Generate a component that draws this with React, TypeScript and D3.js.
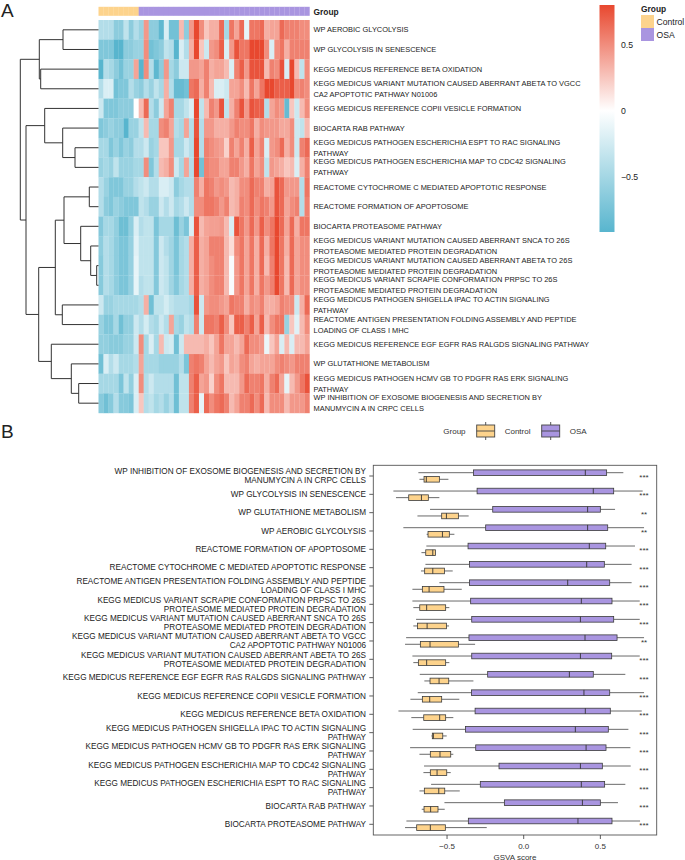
import React, { useEffect, useRef } from 'react';
import * as d3 from 'd3';

const FONT = '"Liberation Sans", Arial, sans-serif';
const CONTROL = '#fdd38c';
const OSA = '#a995e0';

// heatmap rows, top to bottom
const rowLabels = [
  'WP AEROBIC GLYCOLYSIS',
  'WP GLYCOLYSIS IN SENESCENCE',
  'KEGG MEDICUS REFERENCE BETA OXIDATION',
  'KEGG MEDICUS VARIANT MUTATION CAUSED ABERRANT ABETA TO VGCC\nCA2 APOPTOTIC PATHWAY N01006',
  'KEGG MEDICUS REFERENCE COPII VESICLE FORMATION',
  'BIOCARTA RAB PATHWAY',
  'KEGG MEDICUS PATHOGEN ESCHERICHIA ESPT TO RAC SIGNALING\nPATHWAY',
  'KEGG MEDICUS PATHOGEN ESCHERICHIA MAP TO CDC42 SIGNALING\nPATHWAY',
  'REACTOME CYTOCHROME C MEDIATED APOPTOTIC RESPONSE',
  'REACTOME FORMATION OF APOPTOSOME',
  'BIOCARTA PROTEASOME PATHWAY',
  'KEGG MEDICUS VARIANT MUTATION CAUSED ABERRANT SNCA TO 26S\nPROTEASOME MEDIATED PROTEIN DEGRADATION',
  'KEGG MEDICUS VARIANT MUTATION CAUSED ABERRANT ABETA TO 26S\nPROTEASOME MEDIATED PROTEIN DEGRADATION',
  'KEGG MEDICUS VARIANT SCRAPIE CONFORMATION PRPSC TO 26S\nPROTEASOME MEDIATED PROTEIN DEGRADATION',
  'KEGG MEDICUS PATHOGEN SHIGELLA IPAC TO ACTIN SIGNALING\nPATHWAY',
  'REACTOME ANTIGEN PRESENTATION FOLDING ASSEMBLY AND PEPTIDE\nLOADING OF CLASS I MHC',
  'KEGG MEDICUS REFERENCE EGF EGFR RAS RALGDS SIGNALING PATHWAY',
  'WP GLUTATHIONE METABOLISM',
  'KEGG MEDICUS PATHOGEN HCMV GB TO PDGFR RAS ERK SIGNALING\nPATHWAY',
  'WP INHIBITION OF EXOSOME BIOGENESIS AND SECRETION BY\nMANUMYCIN A IN CRPC CELLS',
];

// 42 samples per row
const heatRows = [
  [-.42,-.42,-.42,-.63,-.63,-.35,-.63,-.42,-.56,.45,-.63,-.63,-.88,-.21,-.77,-.77,.3,-.63,.45,.8,.5,.25,.35,.35,.65,-.49,.6,.4,.65,-.14,.6,.6,.65,.35,.4,.4,.65,.55,.55,.55,.5,.5],
  [-.7,-.7,-.7,-.92,-.92,-.63,-.63,-.56,-.56,.5,-.77,-.7,-.63,-.35,-.42,-.92,-.21,-.42,.35,.8,.25,-.28,.45,.5,.7,-.21,.45,.75,.6,.6,.8,.8,.8,.5,-.21,.5,.6,.35,.55,.55,.55,.55],
  [-.92,-.42,-.49,-.63,-.77,-.56,-.56,.4,-.92,.5,-.42,-.88,-.63,.45,-.49,-.63,-.28,-.28,.45,.45,.4,.55,.35,.4,.4,.3,-.21,.55,.7,.45,.75,.75,.75,.3,.55,.5,.75,-.21,.8,.3,-.35,.5],
  [-.42,-.21,-.21,-.77,-.7,-.7,-.42,-.56,-.63,-.42,-.56,-.35,-.49,.35,-.42,-.84,-.84,-.77,.6,.65,.35,.55,.3,-.21,-.21,-.28,.4,.4,.5,.3,.6,.4,.6,.8,.8,.7,.7,.7,.8,.5,.55,.5],
  [-.28,-.7,-.7,-.7,-.63,-.63,-.63,0,.3,.65,-.42,-.63,-.28,.4,.55,-.49,-.49,-.35,-.21,.8,-.35,.3,.55,.45,.75,-.35,.35,.55,.75,.45,.75,.7,.7,-.42,.4,.5,.45,-.84,.25,-.28,.3,.5],
  [-.7,-.63,-.56,-.63,-.63,-.92,-.56,-.56,-.35,.3,-.49,-.49,.5,.55,.4,-.42,-.49,.4,-.42,.75,-.42,.45,.45,.35,.35,.35,.45,.55,.5,.5,.6,.35,.5,.45,.45,.45,.38,.38,.5,-.28,-.35,.3],
  [-.49,-.49,-.7,-.56,-.7,-.56,-.63,-.42,-.42,-.28,-.56,-.49,.25,.25,.45,-.49,-.49,-.28,-.42,.8,-.42,.55,.5,.45,.42,.2,.55,.4,.55,.35,.7,.4,.55,-.21,.45,.5,.65,.35,.5,-.28,.55,.65],
  [-.56,-.49,-.56,-.35,-.56,-.56,-.56,-.49,-.49,.5,-.7,-.42,.3,.35,.5,-.28,-.49,.4,-.42,.8,-.77,.55,.5,.5,.4,.4,.55,.55,.45,.35,.6,.4,.5,-.35,.45,.4,.35,.25,.3,-.21,.35,.55],
  [-.42,-.56,-.7,-.7,-.7,-.56,-.56,-.42,-.35,-.28,-.42,-.42,-.21,-.21,-.28,-.63,-.49,-.42,-.42,.55,.35,.6,.55,.45,.5,.45,.3,.35,.5,.5,.65,.55,.55,.35,.4,.75,.65,.45,.45,.45,-.42,.6],
  [-.42,-.63,-.7,-.56,-.63,-.7,-.7,-.7,-.35,-.42,-.56,-.56,-.28,-.42,-.28,-.49,-.42,-.28,-.42,.5,.5,.6,.6,.55,.45,.55,.3,.35,.55,.5,.65,.5,.6,.55,.45,.75,.65,.4,.5,.55,-.42,.55],
  [-.68,-.49,-.49,-.6,-.8,-.8,-.6,-.21,-.42,-.35,-.35,-.72,-.49,-.49,-.49,-.8,-.56,-.72,-.21,.75,.3,.4,.42,.42,.45,.3,-.21,.75,.6,.45,.65,.45,.7,.5,.6,.8,.65,.4,.65,.35,.6,.6],
  [-.62,-.42,-.49,-.62,-.72,-.72,-.58,-.17,-.35,-.35,-.35,-.68,-.28,-.42,-.52,-.72,-.49,-.42,.35,.7,.35,.4,.55,.55,.55,.3,.15,.5,.6,.4,.6,.35,.65,.35,.6,.8,.6,.35,.65,.4,.5,.5],
  [-.66,-.42,-.49,-.62,-.72,-.72,-.58,-.14,-.35,-.35,-.35,-.68,-.28,-.35,-.52,-.72,-.49,-.42,.35,.7,.35,.4,.5,.55,.55,.3,-.04,.45,.6,.4,.6,.35,.65,.3,.55,.8,.6,.3,.65,.4,.5,.5],
  [-.66,-.42,-.49,-.62,-.72,-.72,-.58,-.14,-.42,-.35,-.35,-.68,-.28,-.35,-.52,-.68,-.49,-.42,.35,.7,.35,.4,.5,.55,.55,.3,-.04,.45,.6,.4,.6,.35,.6,.45,.55,.8,.6,.3,.65,.4,.5,.5],
  [-.28,-.56,-.56,-.49,-.49,-.49,-.49,-.49,-.42,.35,-.78,-.35,-.35,-.24,-.35,-.42,-.42,-.42,-.49,.75,-.28,.45,.5,.5,.45,.4,.6,.55,.55,.35,.5,.45,.55,.35,.35,.4,.55,.5,.5,-.28,.35,.65],
  [-.56,-.7,-.7,-.49,-.78,-.6,-.6,-.28,-.42,-.24,-.42,-.49,-.28,-.42,.4,-.49,-.56,-.35,-.42,.55,-.28,.6,.6,.55,.7,.5,.25,.7,.7,.55,.7,.4,.7,.3,.5,.6,.6,-.56,.25,-.17,.3,.5],
  [-.6,-.6,-.65,-.65,-.65,-.56,-.56,-.28,.5,-.49,-.21,-.49,.3,-.28,-.24,-.78,-.28,.3,.3,.3,.3,.35,.25,.4,.6,.4,.4,.3,.4,.65,.5,.5,.45,-.11,.25,.4,-.21,.3,-.21,.3,.3,.4],
  [-.78,-.21,-.42,-.28,-.49,-.49,-.49,-.42,.4,-.49,-.49,-.49,-.56,-.56,-.56,-.56,-.42,-.72,.55,.6,.55,.4,.3,.4,.45,.25,.4,.35,.5,.55,.4,.35,.4,.4,.4,.5,.55,.5,.45,.55,.55,.55],
  [-.49,-.49,-.49,-.49,-.72,-.35,-.6,-.21,.5,-.42,-.28,-.42,-.42,-.42,-.42,-.78,-.35,-.35,.55,.7,.4,.45,.2,.5,.6,.3,.3,.3,.45,.65,.55,.55,.6,.35,.55,.65,.4,-.14,.3,.45,.6,.75],
  [-.66,-.78,-.66,-.42,-.66,-.66,-.72,-.21,.25,-.42,-.35,-.49,-.42,-.56,-.42,-.8,-.35,-.35,.55,.7,-.14,.65,.5,.6,.65,.55,.3,.4,.55,.55,.65,.5,.65,.3,.5,.5,.5,.3,.45,.45,.45,.55],
];

const sampleGroups = [...Array(8).fill('Control'), ...Array(34).fill('OSA')];

// dendrogram merges: [child, child, height]; ids 0-19 are rows, 20+ are earlier merges
const merges: [number, number, number][] = [
  [0, 1, 35.5],
  [2, 3, 57.8],
  [20, 21, 59.2],
  [6, 7, 23.5],
  [5, 23, 35.8],
  [4, 24, 53.8],
  [8, 9, 9.2],
  [12, 13, 1.8],
  [11, 27, 7.8],
  [10, 28, 17.8],
  [26, 29, 34.5],
  [14, 15, 36.2],
  [30, 31, 43.2],
  [18, 19, 19.8],
  [17, 33, 27.2],
  [16, 34, 47.2],
  [32, 35, 59.8],
  [25, 36, 72.5],
  [22, 37, 78.2],
];

// boxplot categories, top to bottom
const boxLabels = [
  'WP INHIBITION OF EXOSOME BIOGENESIS AND SECRETION BY\nMANUMYCIN A IN CRPC CELLS',
  'WP GLYCOLYSIS IN SENESCENCE',
  'WP GLUTATHIONE METABOLISM',
  'WP AEROBIC GLYCOLYSIS',
  'REACTOME FORMATION OF APOPTOSOME',
  'REACTOME CYTOCHROME C MEDIATED APOPTOTIC RESPONSE',
  'REACTOME ANTIGEN PRESENTATION FOLDING ASSEMBLY AND PEPTIDE\nLOADING OF CLASS I MHC',
  'KEGG MEDICUS VARIANT SCRAPIE CONFORMATION PRPSC TO 26S\nPROTEASOME MEDIATED PROTEIN DEGRADATION',
  'KEGG MEDICUS VARIANT MUTATION CAUSED ABERRANT SNCA TO 26S\nPROTEASOME MEDIATED PROTEIN DEGRADATION',
  'KEGG MEDICUS VARIANT MUTATION CAUSED ABERRANT ABETA TO VGCC\nCA2 APOPTOTIC PATHWAY N01006',
  'KEGG MEDICUS VARIANT MUTATION CAUSED ABERRANT ABETA TO 26S\nPROTEASOME MEDIATED PROTEIN DEGRADATION',
  'KEGG MEDICUS REFERENCE EGF EGFR RAS RALGDS SIGNALING PATHWAY',
  'KEGG MEDICUS REFERENCE COPII VESICLE FORMATION',
  'KEGG MEDICUS REFERENCE BETA OXIDATION',
  'KEGG MEDICUS PATHOGEN SHIGELLA IPAC TO ACTIN SIGNALING\nPATHWAY',
  'KEGG MEDICUS PATHOGEN HCMV GB TO PDGFR RAS ERK SIGNALING\nPATHWAY',
  'KEGG MEDICUS PATHOGEN ESCHERICHIA MAP TO CDC42 SIGNALING\nPATHWAY',
  'KEGG MEDICUS PATHOGEN ESCHERICHIA ESPT TO RAC SIGNALING\nPATHWAY',
  'BIOCARTA RAB PATHWAY',
  'BIOCARTA PROTEASOME PATHWAY',
];

// whisker low, q1, median, q3, whisker high
const osaStats = [
  [-.687,-.328,.402,.541,.65],
  [-.85,-.304,.454,.587,.776],
  [-.611,-.202,.417,.5,.596],
  [-.785,-.248,.417,.548,.785],
  [-.635,-.363,.428,.535,.726],
  [-.641,-.354,.411,.526,.704],
  [-.55,-.354,.287,.561,.704],
  [-.726,-.346,.376,.576,.757],
  [-.702,-.339,.37,.587,.757],
  [-.767,-.357,.4,.609,.785],
  [-.726,-.339,.37,.574,.757],
  [-.678,-.235,.298,.454,.663],
  [-.691,-.341,.393,.561,.785],
  [-.817,-.317,.402,.565,.77],
  [-.724,-.38,.337,.552,.683],
  [-.741,-.313,.407,.537,.696],
  [-.65,-.161,.37,.513,.698],
  [-.604,-.283,.376,.528,.663],
  [-.517,-.126,.383,.5,.615],
  [-.765,-.361,.354,.576,.759],
];
const controlStats = [
  [-.68,-.65,-.635,-.55,-.491],
  [-.833,-.75,-.667,-.622,-.55],
  [-.693,-.535,-.504,-.426,-.359],
  [-.633,-.624,-.53,-.485,-.452],
  [-.667,-.639,-.593,-.576,-.576],
  [-.67,-.646,-.593,-.517,-.463],
  [-.726,-.661,-.617,-.52,-.404],
  [-.72,-.678,-.633,-.509,-.485],
  [-.72,-.693,-.63,-.504,-.487],
  [-.774,-.674,-.611,-.426,-.317],
  [-.72,-.687,-.633,-.509,-.485],
  [-.648,-.611,-.552,-.489,-.328],
  [-.739,-.661,-.613,-.535,-.42],
  [-.733,-.652,-.548,-.509,-.459],
  [-.602,-.596,-.589,-.528,-.502],
  [-.68,-.609,-.546,-.476,-.459],
  [-.654,-.609,-.565,-.502,-.476],
  [-.68,-.648,-.554,-.515,-.417],
  [-.665,-.65,-.607,-.559,-.515],
  [-.774,-.698,-.609,-.511,-.241],
];
const significance = ['***','***','**','**','***','***','***','***','***','**','***','***','***','***','***','***','***','***','***','***'];
const xTicks = [-0.5, 0, 0.5];

const App: React.FC = () => {
  const ref = useRef<SVGSVGElement | null>(null);

  useEffect(() => {
    if (!ref.current) return;
    const svg = d3.select<SVGSVGElement, unknown>(ref.current);
    svg.selectAll('*').remove();
    svg.attr('font-family', FONT);

    const addText = (g: any, x: number, y: number, str: string, size: number, anchor = 'start', weight = 'normal', fill = '#222') =>
      g.append('text').attr('x', x).attr('y', y).attr('font-size', size).attr('text-anchor', anchor)
        .attr('font-weight', weight).attr('fill', fill).text(str);

    // panel letters
    addText(svg, 1, 17, 'A', 19);
    addText(svg, 1, 438, 'B', 19);

    // ---- panel A: heatmap
    const colorDomain = [-0.92, 0, 0.8];
    const color = d3.scaleLinear<string>().domain(colorDomain).range(['#58b5ce', '#ffffff', '#e8482f']);
    const xHeat = d3.scaleBand<number>().domain(d3.range(42)).range([98.5, 309.5]);
    const yHeat = d3.scaleBand<number>().domain(d3.range(20)).range([20, 413]);

    const heat = svg.append('g');
    heatRows.forEach((row, r) => {
      heat.selectAll(null).data(row).enter().append('rect')
        .attr('x', (_d: number, c: number) => xHeat(c) as number)
        .attr('y', yHeat(r) as number)
        .attr('width', xHeat.bandwidth() + 0.2)
        .attr('height', yHeat.bandwidth() + 0.2)
        .attr('fill', (d: number) => color(d));
    });

    // top annotation
    svg.append('g').selectAll('rect').data(sampleGroups).enter().append('rect')
      .attr('x', (_d: string, c: number) => xHeat(c) as number)
      .attr('y', 6.8)
      .attr('width', xHeat.bandwidth() + 0.2)
      .attr('height', 9)
      .attr('fill', (d: string) => (d === 'Control' ? CONTROL : OSA));
    addText(svg, 313.5, 14.6, 'Group', 8.4, 'start', 'bold');

    // row labels
    rowLabels.forEach((label, r) => {
      const lines = label.split('\n');
      const cy = (yHeat(r) as number) + yHeat.bandwidth() / 2;
      lines.forEach((line, i) => {
        addText(svg, 313.5, cy + (i - (lines.length - 1) / 2) * 11 + 2.5, line, 7.44);
      });
    });

    // dendrogram
    const xDend = d3.scaleLinear().domain([0, 78.2]).range([98.5, 20.3]);
    const nodes: { y: number; h: number }[] = d3.range(20).map((r) => ({
      y: (yHeat(r) as number) + yHeat.bandwidth() / 2,
      h: 0,
    }));
    const dend = svg.append('g').attr('fill', 'none').attr('stroke', '#333').attr('stroke-width', 1);
    merges.forEach(([a, b, h]) => {
      const na = nodes[a];
      const nb = nodes[b];
      const path = d3.path();
      path.moveTo(xDend(na.h), na.y);
      path.lineTo(xDend(h), na.y);
      path.lineTo(xDend(h), nb.y);
      path.lineTo(xDend(nb.h), nb.y);
      dend.append('path').attr('d', path.toString());
      nodes.push({ y: (na.y + nb.y) / 2, h });
    });

    // colour bar
    const yBar = d3.scaleLinear().domain([-0.92, 0.8]).range([232, 5]);
    const defs = svg.append('defs');
    const grad = defs.append('linearGradient').attr('id', 'barGrad').attr('x1', 0).attr('x2', 0).attr('y1', 1).attr('y2', 0);
    colorDomain.forEach((v) => {
      grad.append('stop').attr('offset', (v - colorDomain[0]) / (colorDomain[2] - colorDomain[0])).attr('stop-color', color(v));
    });
    svg.append('rect').attr('x', 599.5).attr('y', yBar(0.8)).attr('width', 15)
      .attr('height', yBar(-0.92) - yBar(0.8)).attr('fill', 'url(#barGrad)');
    [[0.5, '0.5'], [0, '0'], [-0.5, '\u22120.5']].forEach(([v, s]) => {
      addText(svg, 621, yBar(v as number) + 3, s as string, 8.7);
    });

    // group legend
    addText(svg, 641, 11.6, 'Group', 8.4, 'start', 'bold');
    const legendGroups = ['Control', 'OSA'];
    const yLeg = d3.scaleBand<string>().domain(legendGroups).range([15, 41]);
    legendGroups.forEach((g) => {
      svg.append('rect').attr('x', 641).attr('y', yLeg(g) as number).attr('width', 13)
        .attr('height', yLeg.bandwidth()).attr('fill', g === 'Control' ? CONTROL : OSA);
      addText(svg, 656.5, (yLeg(g) as number) + yLeg.bandwidth() / 2 + 3, g, 8.6);
    });

    // ---- panel B: boxplots
    const x = d3.scaleLinear().domain([-0.981, 0.8676]).range([373.3, 656.7]);
    const y = d3.scalePoint<number>().domain(d3.range(20)).range([476, 824.3]);
    const boxH = 5.6;
    const dodge = 3.3;

    const drawBox = (g: any, stat: number[], cy: number, fill: string) => {
      const [lo, q1, med, q3, hi] = stat;
      g.append('line').attr('x1', x(lo)).attr('x2', x(q1)).attr('y1', cy).attr('y2', cy).attr('stroke', '#444').attr('stroke-width', 0.8);
      g.append('line').attr('x1', x(q3)).attr('x2', x(hi)).attr('y1', cy).attr('y2', cy).attr('stroke', '#444').attr('stroke-width', 0.8);
      g.append('rect').attr('x', x(q1)).attr('y', cy - boxH / 2).attr('width', x(q3) - x(q1)).attr('height', boxH)
        .attr('fill', fill).attr('stroke', '#3a3a3a').attr('stroke-width', 0.8);
      g.append('line').attr('x1', x(med)).attr('x2', x(med)).attr('y1', cy - boxH / 2).attr('y2', cy + boxH / 2)
        .attr('stroke', '#333').attr('stroke-width', 0.9);
    };

    const boxes = svg.append('g');
    boxLabels.forEach((label, i) => {
      const cy = y(i) as number;
      drawBox(boxes, osaStats[i], cy - dodge, OSA);
      drawBox(boxes, controlStats[i], cy + dodge, CONTROL);
      addText(boxes, x(0.785), cy + 4, significance[i], 8, 'middle', 'normal', '#333');
      boxes.append('line').attr('x1', 369.3).attr('x2', 373.3).attr('y1', cy).attr('y2', cy).attr('stroke', '#333').attr('stroke-width', 0.8);
      const lines = label.split('\n');
      lines.forEach((line, k) => {
        addText(boxes, 366, cy + (k - (lines.length - 1) / 2) * 9 + 2.7, line, 8.2, 'end');
      });
    });

    svg.append('rect').attr('x', 373.3).attr('y', 465.3).attr('width', 283.4).attr('height', 369.7)
      .attr('fill', 'none').attr('stroke', '#555').attr('stroke-width', 0.9);

    xTicks.forEach((t) => {
      svg.append('line').attr('x1', x(t)).attr('x2', x(t)).attr('y1', 835).attr('y2', 839).attr('stroke', '#333').attr('stroke-width', 0.8);
      addText(svg, x(t), 849, d3.format('.1f')(t).replace('-', '\u2212'), 8, 'middle', 'normal', '#333');
    });
    addText(svg, 515, 859.5, 'GSVA score', 8, 'middle', 'normal', '#333');

    // boxplot legend
    addText(svg, 443.3, 434, 'Group', 8, 'start', 'normal', '#333');
    const drawKey = (kx: number, fill: string) => {
      const key = svg.append('g').attr('stroke', '#444').attr('stroke-width', 0.9);
      key.append('line').attr('x1', kx + 9).attr('x2', kx + 9).attr('y1', 422).attr('y2', 440);
      key.append('rect').attr('x', kx).attr('y', 425).attr('width', 18).attr('height', 12).attr('fill', fill);
      key.append('line').attr('x1', kx).attr('x2', kx + 18).attr('y1', 431).attr('y2', 431);
    };
    drawKey(476.7, CONTROL);
    addText(svg, 504.7, 434, 'Control', 8, 'start', 'normal', '#333');
    drawKey(541.7, OSA);
    addText(svg, 569.7, 434, 'OSA', 8, 'start', 'normal', '#333');
  }, []);

  return <svg ref={ref} width={685} height={860} style={{ position: 'absolute', left: 0, top: 0 }} />;
};

export default App;
